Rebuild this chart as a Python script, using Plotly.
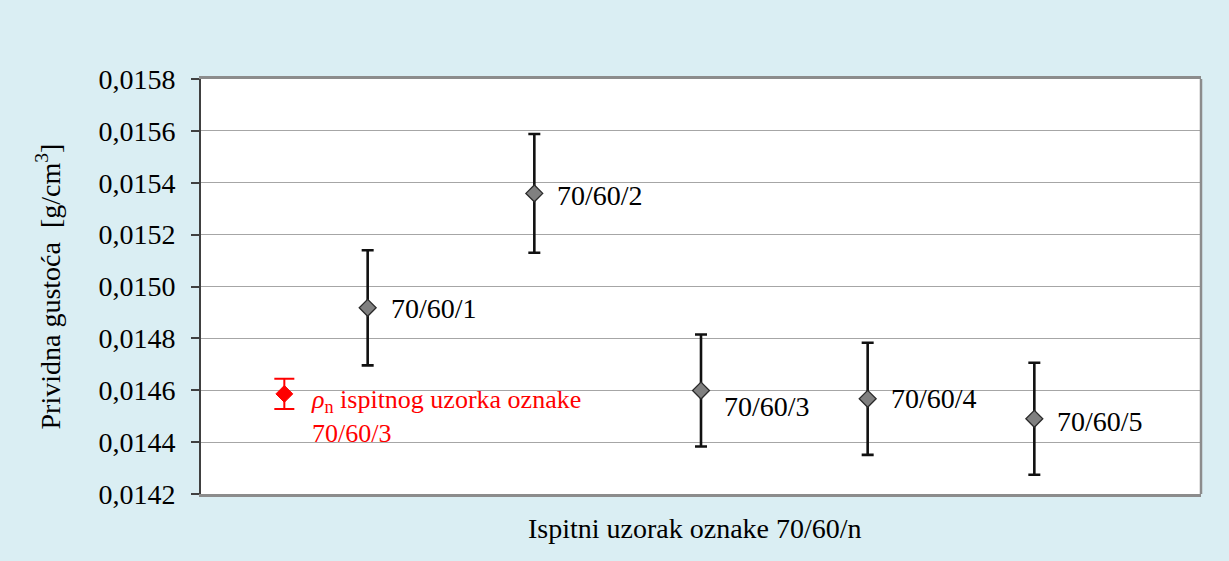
import plotly.graph_objects as go

# Data
sample_labels = ["70/60/1", "70/60/2", "70/60/3", "70/60/4", "70/60/5"]
sample_x = [1, 2, 3, 4, 5]
density = [0.014918, 0.015359, 0.014599, 0.014567, 0.014490]
density_err = [0.000222, 0.000229, 0.000216, 0.000216, 0.000216]

ref_x = [0.5]
ref_density = [0.014586]
ref_err = [0.000058]
ref_label = "<i>ρ</i><sub>n</sub> ispitnog uzorka oznake<br>70/60/3"

y_ticks = [0.0142, 0.0144, 0.0146, 0.0148, 0.0150, 0.0152, 0.0154, 0.0156, 0.0158]

# label vertical offsets (pixels) relative to the point
label_yshift = [-1, -2, -16, 0, -3]

FONT = "Liberation Serif"
BG = "#DAEEF3"

fig = go.Figure()

fig.add_trace(go.Scatter(
    x=sample_x, y=density, mode="markers",
    marker=dict(symbol="diamond", size=13, color="#808080",
                line=dict(color="#2a2a2a", width=1.3)),
    error_y=dict(type="data", array=density_err, visible=True,
                 color="#111111", thickness=2.6, width=6),
    showlegend=False, hoverinfo="skip",
))

fig.add_trace(go.Scatter(
    x=ref_x, y=ref_density, mode="markers",
    marker=dict(symbol="diamond", size=13, color="#FF0000",
                line=dict(color="#FF0000", width=1)),
    error_y=dict(type="data", array=ref_err, visible=True,
                 color="#FF0000", thickness=2, width=10),
    showlegend=False, hoverinfo="skip",
))

annotations = []
for x, y, lab, ys in zip(sample_x, density, sample_labels, label_yshift):
    annotations.append(dict(
        x=x, y=y, xref="x", yref="y", text=lab, showarrow=False,
        xanchor="left", yanchor="middle", xshift=21, yshift=ys,
        font=dict(family=FONT, size=28, color="#000000"),
    ))

annotations.append(dict(
    x=ref_x[0], y=ref_density[0], xref="x", yref="y", text=ref_label,
    showarrow=False, xanchor="left", yanchor="middle", align="left",
    xshift=25, yshift=-23,
    font=dict(family=FONT, size=26, color="#FF0000"),
))

annotations.append(dict(
    x=0.494, y=-0.084, xref="paper", yref="paper",
    text="Ispitni uzorak oznake 70/60/n", showarrow=False,
    xanchor="center", yanchor="middle",
    font=dict(family=FONT, size=28, color="#000000"),
))

annotations.append(dict(
    x=-0.152, y=0.5, xref="paper", yref="paper",
    text="Prividna gustoća  [g/cm<sup>3</sup>]", showarrow=False,
    textangle=-90, xanchor="center", yanchor="middle",
    font=dict(family=FONT, size=28, color="#000000"),
))

fig.update_layout(
    width=1229, height=561,
    margin=dict(l=201, r=28, t=79, b=67),
    paper_bgcolor=BG, plot_bgcolor="#FFFFFF",
    separators=",.",
    annotations=annotations,
    shapes=[dict(type="line", xref="paper", yref="paper",
                 x0=1, x1=1, y0=0, y1=1,
                 line=dict(color="#8c8c8c", width=2.5))],
    font=dict(family=FONT, size=28, color="#000000"),
)

fig.update_xaxes(
    range=[0, 6], showticklabels=False, ticks="", showgrid=False,
    zeroline=False, showline=True, mirror=True,
    linecolor="#8c8c8c", linewidth=2.5,
)

fig.update_yaxes(
    range=[0.0142, 0.0158], tickvals=y_ticks, tickformat=".4f",
    showgrid=True, gridcolor="#A6A6A6", gridwidth=1.2,
    zeroline=False, showline=True, linecolor="#404040", linewidth=2,
    ticks="outside", ticklen=8, tickcolor="#404040", tickwidth=1.5,
    ticklabelstandoff=10,
    tickfont=dict(family=FONT, size=28, color="#000000"),
)

fig.write_html(
    "out.html",
    config={"displayModeBar": False},
    post_script="document.body.style.margin='0';document.body.style.overflow='hidden';",
)
